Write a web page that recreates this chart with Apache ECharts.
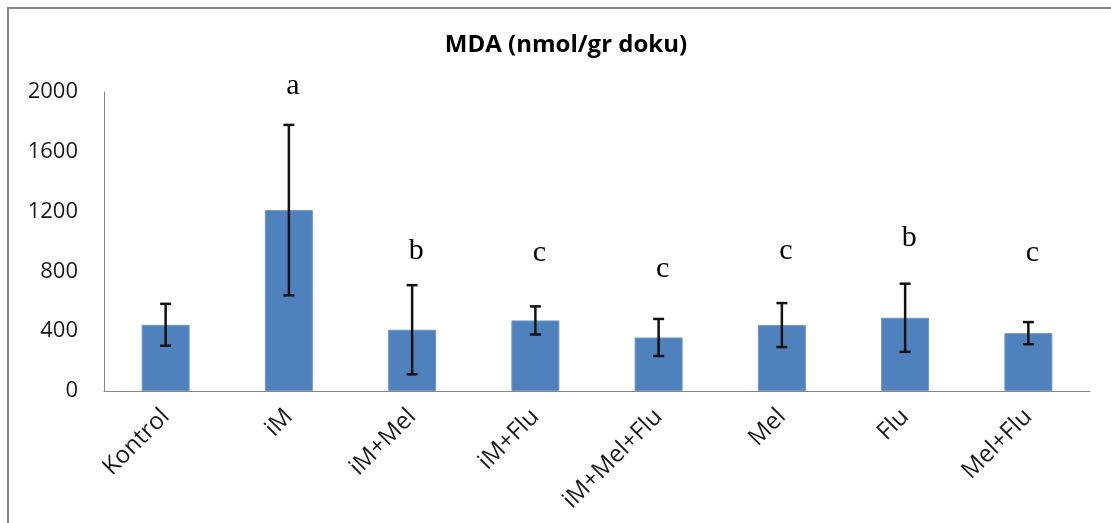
<!DOCTYPE html>
<html>
<head>
<meta charset="utf-8">
<script src="https://cdn.jsdelivr.net/npm/echarts@6/dist/echarts.min.js"></script>
<style>
  html, body { margin: 0; padding: 0; background: #ffffff; }
  #chart { width: 1111px; height: 523px; }
</style>
</head>
<body>
<div id="chart"></div>
<script>
// MDA levels per group (nmol/gr doku): mean, error (±) and significance letter
const categories = ['Kontrol', 'iM', 'iM+Mel', 'iM+Flu', 'iM+Mel+Flu', 'Mel', 'Flu', 'Mel+Flu'];
const meanValues = [443, 1210, 410, 472, 358, 441, 490, 387];
const errorValues = [140, 570, 298, 94, 124, 147, 228, 74];
const groupLetters = ['', 'a', 'b', 'c', 'c', 'c', 'b', 'c'];
// baseline height (in axis units) of each letter
const letterLevels = [0, 1985, 880, 870, 765, 880, 970, 870];
const yTicks = { min: 0, max: 2000, interval: 400 };

const chart = echarts.init(document.getElementById('chart'));

const errorData = categories.map((c, i) => [i, meanValues[i] - errorValues[i], meanValues[i] + errorValues[i]]);
const letterData = categories.map((c, i) => [i, letterLevels[i], groupLetters[i]]);

const frameColor = '#868686';

chart.setOption({
  animation: false,
  backgroundColor: '#ffffff',
  title: {
    text: 'MDA (nmol/gr doku)',
    left: 561,
    top: 28,
    textAlign: 'center',
    textStyle: { fontFamily: 'Open Sans', fontWeight: 'bold', fontSize: 24, color: '#000000' }
  },
  graphic: [
    { type: 'line', shape: { x1: 7, y1: 8, x2: 1111, y2: 8 }, style: { stroke: frameColor, lineWidth: 2 } },
    { type: 'line', shape: { x1: 8, y1: 7, x2: 8, y2: 523 }, style: { stroke: frameColor, lineWidth: 2 } }
  ],
  grid: { left: 104, right: 21, top: 92, bottom: 132, containLabel: false },
  xAxis: {
    type: 'category',
    data: categories,
    axisLine: { lineStyle: { color: frameColor, width: 1 } },
    axisTick: { show: false },
    axisLabel: {
      interval: 0,
      rotate: 45,
      margin: 22,
      fontFamily: 'Open Sans',
      fontSize: 24,
      color: '#1a1a1a'
    },
    splitLine: { show: false }
  },
  yAxis: {
    type: 'value',
    min: yTicks.min,
    max: yTicks.max,
    interval: yTicks.interval,
    axisLine: { show: true, lineStyle: { color: frameColor, width: 1 } },
    axisTick: { show: false },
    splitLine: { show: false },
    axisLabel: {
      margin: 26,
      fontFamily: 'Open Sans',
      fontSize: 22,
      color: '#1a1a1a',
      formatter: function (v) { return String(v); }
    }
  },
  series: [
    {
      type: 'bar',
      data: meanValues,
      barWidth: 48,
      itemStyle: { color: '#4F81BD', borderColor: '#6f97c9', borderWidth: 1 }
    },
    {
      type: 'custom',
      data: errorData,
      z: 10,
      renderItem: function (params, api) {
        const x = api.value(0);
        const lo = api.coord([x, api.value(1)]);
        const hi = api.coord([x, api.value(2)]);
        const half = 5.5;
        const st = { stroke: '#111111', lineWidth: 2.5 };
        return {
          type: 'group',
          children: [
            { type: 'line', shape: { x1: hi[0], y1: hi[1], x2: lo[0], y2: lo[1] }, style: st },
            { type: 'line', shape: { x1: hi[0] - half, y1: hi[1], x2: hi[0] + half, y2: hi[1] }, style: st },
            { type: 'line', shape: { x1: lo[0] - half, y1: lo[1], x2: lo[0] + half, y2: lo[1] }, style: st }
          ]
        };
      }
    },
    {
      type: 'custom',
      data: letterData,
      z: 11,
      clip: false,
      renderItem: function (params, api) {
        const idx = params.dataIndex;
        const letter = groupLetters[idx];
        if (!letter) return null;
        const p = api.coord([api.value(0), api.value(1)]);
        return {
          type: 'text',
          x: p[0] + 4,
          y: p[1] + 7,
          style: {
            text: letter,
            fontFamily: 'Liberation Serif',
            fontSize: 30,
            fill: '#000000',
            align: 'center',
            verticalAlign: 'bottom'
          }
        };
      }
    }
  ]
});
</script>
</body>
</html>
